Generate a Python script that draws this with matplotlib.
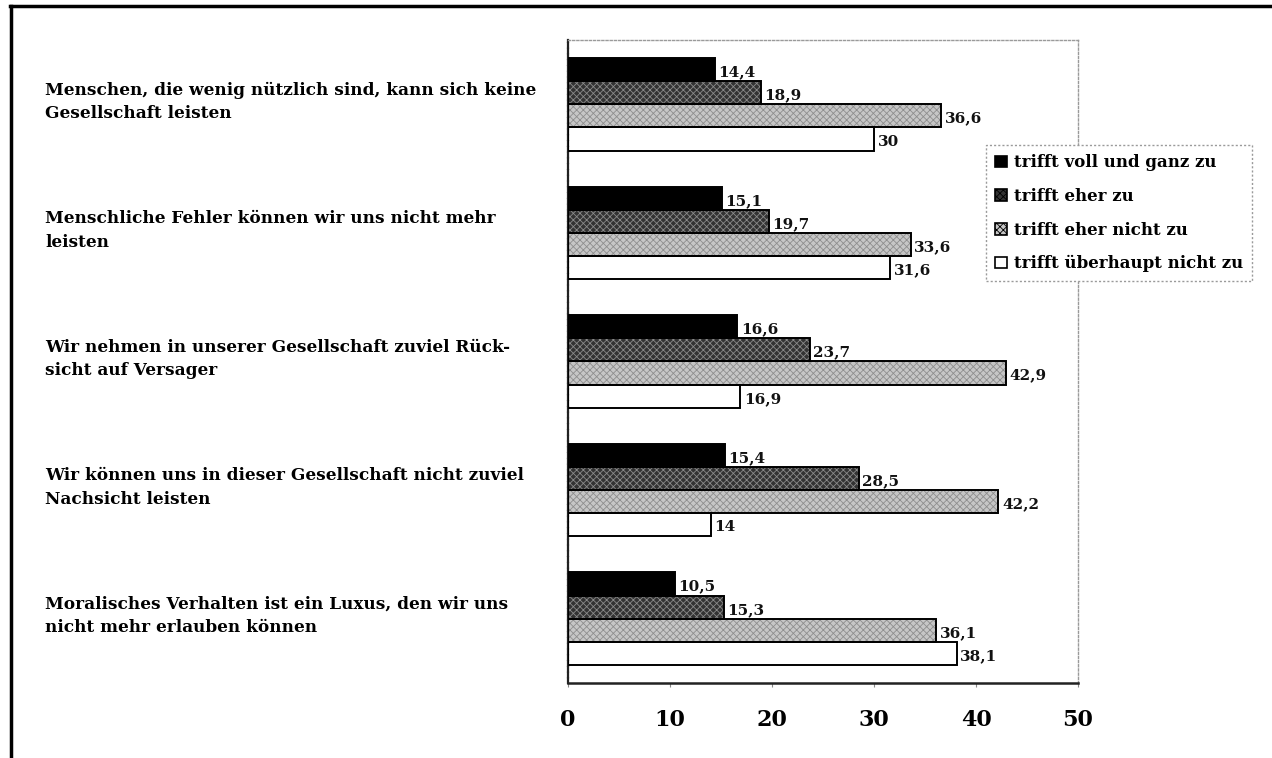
import matplotlib
matplotlib.use("Agg")
import matplotlib.pyplot as plt
import numpy as np
from matplotlib.patches import Patch
from matplotlib.lines import Line2D

# Survey statements (top to bottom)
statements = [
    "Menschen, die wenig nützlich sind, kann sich keine\nGesellschaft leisten",
    "Menschliche Fehler können wir uns nicht mehr\nleisten",
    "Wir nehmen in unserer Gesellschaft zuviel Rück-\nsicht auf Versager",
    "Wir können uns in dieser Gesellschaft nicht zuviel\nNachsicht leisten",
    "Moralisches Verhalten ist ein Luxus, den wir uns\nnicht mehr erlauben können",
]

answers = [
    "trifft voll und ganz zu",
    "trifft eher zu",
    "trifft eher nicht zu",
    "trifft überhaupt nicht zu",
]

# Percentages per answer category
voll_und_ganz = [14.4, 15.1, 16.6, 15.4, 10.5]
eher_zu = [18.9, 19.7, 23.7, 28.5, 15.3]
eher_nicht = [36.6, 33.6, 42.9, 42.2, 36.1]
ueberhaupt_nicht = [30, 31.6, 16.9, 14, 38.1]

series = [voll_und_ganz, eher_zu, eher_nicht, ueberhaupt_nicht]
x_ticks = [0, 10, 20, 30, 40, 50]

SERIF = ["DejaVu Serif", "Liberation Serif"]
plt.rcParams["font.family"] = SERIF
plt.rcParams["font.weight"] = "bold"
plt.rcParams["hatch.linewidth"] = 0.6

fills = ["#000000", "#333333", "#c6c6c6", "#ffffff"]
hatches = [None, "xxxxx", "xxxxx", None]
hatch_cols = ["#000000", "#8a8a8a", "#8e8e8e", "#ffffff"]

fig = plt.figure(figsize=(12.72, 7.58), dpi=100)
ax = fig.add_axes([568 / 1272, 1 - 683 / 758, 510 / 1272, 643 / 758])

y = np.arange(len(statements))
h = 0.18
offsets = [-1.5 * h, -0.5 * h, 0.5 * h, 1.5 * h]

for vals, off, fc, hc, hp in zip(series, offsets, fills, hatch_cols, hatches):
    # fill with texture, then a crisp black outline on top
    ax.barh(y + off, vals, height=h, color=fc, edgecolor=hc, hatch=hp,
            linewidth=0, zorder=2)
    ax.barh(y + off, vals, height=h, facecolor="none", edgecolor="black",
            linewidth=1.4, zorder=3)
    for yi, v in zip(y + off, vals):
        txt = f"{v:g}".replace(".", ",")
        ax.text(v + 0.35, yi + 0.02, txt, va="center", ha="left",
                fontsize=11, fontweight="bold", color="#111111", zorder=4)

ax.set_xlim(0, 50)
ax.set_ylim(len(statements) - 0.5, -0.5)
ax.set_xticks(x_ticks)
ax.set_xticklabels([str(t) for t in x_ticks], fontsize=16, fontweight="bold")
ax.tick_params(axis="x", length=3, width=0.8, pad=16, color="#888888",
               direction="out")

ax.set_yticks(y - 0.06)
ax.set_yticklabels(statements, fontsize=12.2, fontweight="bold", ha="left",
                   linespacing=1.5)
ax.tick_params(axis="y", length=0, pad=(568 - 45) * 72 / 100)

for side in ("top", "right"):
    ax.spines[side].set_linestyle((0, (1.5, 1.5)))
    ax.spines[side].set_color("#9a9a9a")
    ax.spines[side].set_linewidth(1.0)
ax.spines["left"].set_color("#222222")
ax.spines["left"].set_linewidth(1.6)
ax.spines["left"].set_linestyle((0, (2, 0.6)))
ax.spines["bottom"].set_color("#222222")
ax.spines["bottom"].set_linewidth(1.8)

handles = [Patch(facecolor=fc, edgecolor="black", hatch=hp, linewidth=1.2)
           for fc, hp in zip(fills, hatches)]
leg = fig.legend(handles, answers, loc="upper left",
                 bbox_to_anchor=(986 / 1272, 1 - 145 / 758),
                 prop={"family": SERIF, "weight": "bold", "size": 12},
                 handlelength=0.7, handleheight=0.7, handletextpad=0.4,
                 labelspacing=1.0, borderpad=0.55, borderaxespad=0,
                 fancybox=False, framealpha=1, edgecolor="#9a9a9a")
leg.get_frame().set_linestyle((0, (1.5, 1.5)))
leg.get_frame().set_linewidth(1.0)

# outer frame lines along the top and left edges
fig.add_artist(Line2D([10 / 1272, 1.0], [1 - 6 / 758, 1 - 6 / 758],
                      transform=fig.transFigure, color="black", linewidth=2.5))
fig.add_artist(Line2D([11 / 1272, 11 / 1272], [0.0, 1 - 6 / 758],
                      transform=fig.transFigure, color="black", linewidth=2.5))

fig.savefig("out.png", dpi=100, facecolor="white")
